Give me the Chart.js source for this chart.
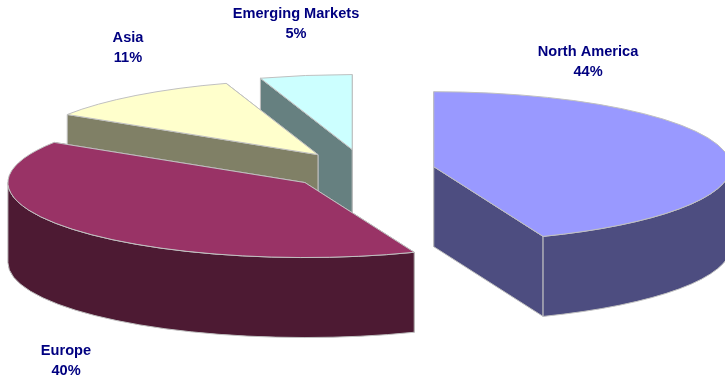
<!DOCTYPE html>
<html>
<head>
<meta charset="utf-8">
<title>Regional split</title>
<script src="https://cdn.jsdelivr.net/npm/chart.js@4"></script>
<style>
  html, body { margin: 0; padding: 0; background: #fff; }
  canvas { display: block; }
</style>
</head>
<body>
<canvas id="regions" width="725" height="376"></canvas>
<script>
var categories = ['North America', 'Europe', 'Asia', 'Emerging Markets'];
var shares = [44, 40, 11, 5];
var topColors = ['#9999FF', '#993366', '#FFFFCC', '#CCFFFF'];
var wallColors = ['#4D4D80', '#4D1A33', '#808066', '#668080'];
var slicePull = [70, 78, 76.7, 82];
var labelSpots = [[588, 52], [66, 351], [128, 38], [296, 14]];
// back to front
var paintOrder = [3, 2, 1, 0];

var TILT = 0.2525;
var DEPTH = 80;
var EDGE = '#C0C0C0';

// centre of a slice once the pie is tilted and the slice pulled out
function sliceCentre(arc, i) {
  var mid = (arc.startAngle + arc.endAngle) / 2;
  return {
    x: arc.x + Math.cos(mid) * slicePull[i],
    y: arc.y + Math.sin(mid) * slicePull[i] * TILT
  };
}

function rimPoint(arc, c, angle) {
  return {
    x: c.x + Math.cos(angle) * arc.outerRadius,
    y: c.y + Math.sin(angle) * arc.outerRadius * TILT
  };
}

function drawEdgeWall(ctx, c, p, color) {
  ctx.beginPath();
  ctx.moveTo(c.x, c.y);
  ctx.lineTo(p.x, p.y);
  ctx.lineTo(p.x, p.y + DEPTH);
  ctx.lineTo(c.x, c.y + DEPTH);
  ctx.closePath();
  ctx.fillStyle = color;
  ctx.fill();
  ctx.stroke();
}

function drawRimWall(ctx, arc, c, color) {
  var from = Math.max(arc.startAngle, 0);
  var to = Math.min(arc.endAngle, Math.PI);
  if (from >= to) {
    return;
  }
  var r = arc.outerRadius;
  ctx.beginPath();
  ctx.ellipse(c.x, c.y, r, r * TILT, 0, from, to);
  ctx.ellipse(c.x, c.y + DEPTH, r, r * TILT, 0, to, from, true);
  ctx.closePath();
  ctx.fillStyle = color;
  ctx.fill();
  ctx.stroke();
}

function outlineTop(ctx, arc, c) {
  var r = arc.outerRadius;
  ctx.beginPath();
  ctx.moveTo(c.x, c.y);
  ctx.ellipse(c.x, c.y, r, r * TILT, 0, arc.startAngle, arc.endAngle);
  ctx.closePath();
  ctx.stroke();
}

var tiltedPie = {
  id: 'tiltedPie',
  beforeDatasetDraw: function (chart, args) {
    var ctx = chart.ctx;
    var arcs = args.meta.data;
    ctx.save();
    ctx.lineWidth = 1;
    ctx.strokeStyle = EDGE;
    ctx.lineJoin = 'round';
    paintOrder.forEach(function (i) {
      var arc = arcs[i];
      var c = sliceCentre(arc, i);
      var start = rimPoint(arc, c, arc.startAngle);
      var end = rimPoint(arc, c, arc.endAngle);
      // the wall further back goes down first
      if (start.y < end.y) {
        drawEdgeWall(ctx, c, start, wallColors[i]);
        drawEdgeWall(ctx, c, end, wallColors[i]);
      } else {
        drawEdgeWall(ctx, c, end, wallColors[i]);
        drawEdgeWall(ctx, c, start, wallColors[i]);
      }
      drawRimWall(ctx, arc, c, wallColors[i]);

      // the slice itself, squashed about its own centre
      ctx.save();
      ctx.translate(c.x, c.y);
      ctx.scale(1, TILT);
      ctx.translate(-arc.x, -arc.y);
      arc.draw(ctx);
      ctx.restore();

      outlineTop(ctx, arc, c);
    });
    ctx.restore();
    return false;
  },
  afterDraw: function (chart) {
    var ctx = chart.ctx;
    ctx.save();
    ctx.font = 'bold 14.6px "Liberation Sans", Arial, sans-serif';
    ctx.fillStyle = '#000080';
    ctx.textAlign = 'center';
    ctx.textBaseline = 'middle';
    categories.forEach(function (name, i) {
      var spot = labelSpots[i];
      ctx.fillText(name, spot[0], spot[1]);
      ctx.fillText(shares[i] + '%', spot[0], spot[1] + 20);
    });
    ctx.restore();
  }
};

new Chart(document.getElementById('regions'), {
  type: 'pie',
  data: {
    labels: categories,
    datasets: [{
      data: shares,
      backgroundColor: topColors,
      borderWidth: 0
    }]
  },
  options: {
    responsive: false,
    animation: false,
    radius: 297,
    layout: { padding: { left: 5, bottom: 36 } },
    plugins: {
      legend: { display: false },
      tooltip: { enabled: false }
    }
  },
  plugins: [tiltedPie]
});
</script>
</body>
</html>
